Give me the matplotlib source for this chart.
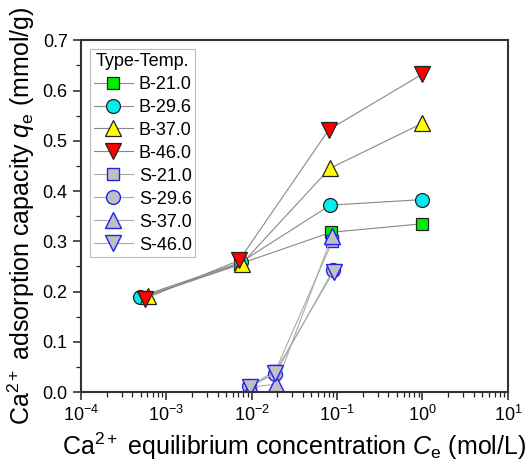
import numpy as np
import matplotlib.pyplot as plt

plt.rcParams['font.family'] = ['Liberation Sans', 'DejaVu Sans']
plt.rcParams['mathtext.fontset'] = 'custom'
plt.rcParams['mathtext.rm'] = 'Liberation Sans'
plt.rcParams['mathtext.it'] = 'Liberation Sans:italic'

# B series (4 points each)
b_ce = {
    'B-21.0': [5.4e-4, 7.2e-3, 0.085, 1.0],
    'B-29.6': [4.9e-4, 7.4e-3, 0.083, 0.98],
    'B-37.0': [6.1e-4, 7.6e-3, 0.082, 1.0],
    'B-46.0': [5.6e-4, 7.1e-3, 0.080, 0.98],
}
b_qe = {
    'B-21.0': [0.190, 0.255, 0.318, 0.335],
    'B-29.6': [0.190, 0.258, 0.372, 0.383],
    'B-37.0': [0.192, 0.255, 0.445, 0.535],
    'B-46.0': [0.186, 0.262, 0.522, 0.632],
}
# S series (3 points each)
s_ce = {
    'S-21.0': [9.6e-3, 0.0190, 0.088],
    'S-29.6': [9.4e-3, 0.0188, 0.090],
    'S-37.0': [9.8e-3, 0.0195, 0.087],
    'S-46.0': [9.5e-3, 0.0185, 0.091],
}
s_qe = {
    'S-21.0': [0.012, 0.043, 0.300],
    'S-29.6': [0.012, 0.036, 0.243],
    'S-37.0': [0.010, 0.016, 0.310],
    'S-46.0': [0.010, 0.038, 0.240],
}

b_style = {
    'B-21.0': ('s', '#00ee00', 9),
    'B-29.6': ('o', '#00eeee', 10),
    'B-37.0': ('^', '#ffff00', 11),
    'B-46.0': ('v', '#ff0000', 11),
}
s_style = {
    'S-21.0': ('s', 9),
    'S-29.6': ('o', 10),
    'S-37.0': ('^', 11),
    'S-46.0': ('v', 11),
}

fig = plt.figure(figsize=(5.29, 4.63), dpi=100)
ax = fig.add_axes([0.153, 0.153, 0.807, 0.760])

for name in b_ce:
    m, c, ms = b_style[name]
    ax.plot(b_ce[name], b_qe[name], color='#888888', lw=0.8, marker=m,
            ms=ms, mfc=c, mec='#222222', mew=0.9, label=name)
for name in s_ce:
    m, ms = s_style[name]
    ax.plot(s_ce[name], s_qe[name], color='#aaaaaa', lw=0.8, marker=m,
            ms=ms, mfc='#c0c0c0', mec='#2222ee', mew=1.0, label=name)

ax.set_xscale('log')
ax.set_xlim(1e-4, 10)
ax.set_ylim(0, 0.7)
ax.set_yticks(np.arange(0, 0.71, 0.1))
ax.set_yticks(np.arange(0.05, 0.7, 0.1), minor=True)
ax.yaxis.set_major_formatter(plt.FormatStrFormatter('%.1f'))

for s in ax.spines.values():
    s.set_linewidth(1.5)
    s.set_color('#333333')
ax.tick_params(which='both', direction='out', labelsize=13, color='#222222')
ax.tick_params(which='major', length=6, width=1.1)
ax.tick_params(which='minor', length=3.5, width=0.9)

ax.set_xlabel('Ca$^{2+}$ equilibrium concentration $C_\\mathrm{e}$ (mol/L)',
              fontsize=18, labelpad=4)
ax.set_ylabel('Ca$^{2+}$ adsorption capacity $q_\\mathrm{e}$ (mmol/g)',
              fontsize=18, labelpad=4)

leg = ax.legend(title='Type-Temp.', loc='upper left', fontsize=13,
                title_fontsize=13, frameon=True, fancybox=False,
                edgecolor='#aaaaaa', handlelength=2.2, labelspacing=0.33,
                borderaxespad=0.5, handletextpad=0.3, borderpad=0.2)
leg.get_frame().set_linewidth(0.8)

fig.savefig('out.png', dpi=100)
